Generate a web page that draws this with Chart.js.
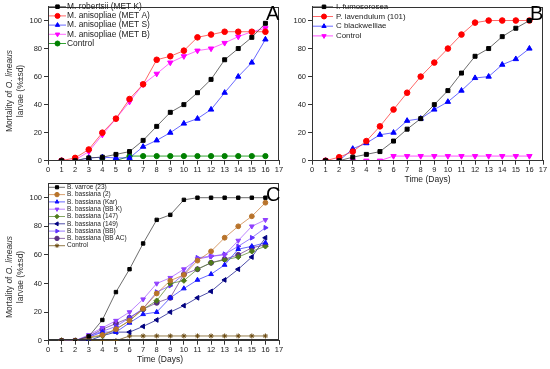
<!DOCTYPE html>
<html><head><meta charset="utf-8">
<script src="https://cdn.jsdelivr.net/npm/chart.js@4.4.1/dist/chart.umd.min.js"></script>
<style>
body{margin:0;background:#fff;width:550px;height:369px;position:relative;overflow:hidden}
canvas{position:absolute}
</style></head><body>
<canvas id="ca" width="285" height="178" style="left:0;top:0"></canvas>
<canvas id="cb" width="265" height="186" style="left:285px;top:0"></canvas>
<canvas id="cc" width="285" height="194" style="left:0;top:175px"></canvas>
<script>
// ---------- data ----------
const days = [1,2,3,4,5,6,7,8,9,10,11,12,13,14,15,16];
const yTickValues = [0,20,40,60,80,100];

// Panel A
const labelsA = ["M. robertsii (MET K)","M. anisopliae (MET A)","M. anisopliae (MET S)","M. anisopliae (MET B)","Control"];
const metK  = [0,0,2,2.5,4.5,6.5,14.5,24.5,34.5,40,48.5,58,72,80,88,98];
const metA  = [0,2,8,20,30,44,54.5,72,74.5,78.5,88,90,92,92,92,92];
const metS  = [0,0,2,2.5,2,2,10,14.5,20,26.5,30,36.5,48.5,60,70,86.5];
const metB  = [0,0.5,6.5,18.5,30,42,54.5,62,70,74.5,78.5,80,84,88.5,92,94.5];
const ctrlA = [0,0,0,0,0,3.3,3.3,3.3,3.3,3.3,3.3,3.3,3.3,3.3,3.3,3.3];

// Panel B
const labelsB = ["I. fumosorosea","P. lavendulum (101)","C blackwelliae","Control"];
const ifum  = [0,0,2.5,4.5,6.5,14,22.5,30,40,50,62.5,74.5,80,88.5,94.5,100];
const plav  = [0,2.5,6.5,14,24.5,36.5,48.5,60,70,80,90,98.5,100,100,100,100];
const cbla  = [0,0,8.5,12.5,18.5,20,28.5,30,36.5,42,50,59,60,68.5,72.5,80];
const ctrlB = [0,0,0,0,0,3.3,3.3,3.3,3.3,3.3,3.3,3.3,3.3,3.3,3.3,3.3];

// Panel C
const labelsC = ["B. varroe (23)","B. bassiana (2)","B. bassiana (Kar)","B. bassiana (BB K)","B. bassiana (147)","B. bassiana (149)","B. bassiana (BB)","B. bassiana (BB AC)","Control"];
const varroe = [0,0,3,14.5,34,50,68,84.5,88,98.5,100,100,100,100,100,100];
const bass2  = [0,0,2.5,4,8,14,22.5,33,42,46,56,62.5,72,80,87,96.5];
const bassKar= [0,0,2.5,6,6,12.5,18.5,20,30,36.5,42.5,46.5,53,64,66,68.5];
const bassBBK= [0,0,4,9,14,20,29,40,44,50,57,59,60,70,80,84.5];
const bass147= [0,0,2,3.5,8,14,22,28,40,42,50,54.5,56.5,58.5,62.5,66];
const bass149= [0,0,0,3.5,6,6,10,14.5,20,24.5,30,34.5,42.5,50,58.5,72];
const bassBB = [0,0,3.5,6.5,10,16,22.5,34,38.5,46.5,58,59,60.5,66,72,79];
const bassBBAC=[0,0,3,8,12,16,22,26.5,30,46.5,50,54.5,57,60,65,67];
const ctrlC  = [0,0,0,0,0,3.3,3.3,3.3,3.3,3.3,3.3,3.3,3.3,3.3,3.3,3.3];

// ---------- helpers ----------
const FONT = "'Liberation Sans', Arial, sans-serif";
function ds(label, vals, color, lineColor, style, rot, r){
  return {label, data: days.map((d,i)=>({x:d,y:vals[i]})),
    borderColor: lineColor, borderWidth: 1, backgroundColor: color,
    pointBackgroundColor: color, pointBorderColor: color, pointBorderWidth: 1,
    pointStyle: style, pointRotation: rot||0, pointRadius: r, tension: 0, fill:false};
}

const deco = {
  id:'deco',
  afterDraw(chart, args, o){
    const ctx = chart.ctx, a = chart.chartArea;
    ctx.save();
    ctx.strokeStyle = '#333'; ctx.lineWidth = 1;
    ctx.strokeRect(Math.round(a.left)+0.5, Math.round(a.top)+0.5, Math.round(a.right-a.left)-1, Math.round(a.bottom-a.top)-1);
    const L = o.legend;
    chart.data.datasets.forEach((d,i)=>{
      const y = L.y0 + L.dy*i;
      ctx.strokeStyle = d.borderColor; ctx.lineWidth = 1;
      ctx.beginPath(); ctx.moveTo(L.x0, y); ctx.lineTo(L.x1, y); ctx.stroke();
      ctx.fillStyle = d.pointBackgroundColor; ctx.strokeStyle = d.pointBorderColor;
      Chart.helpers.drawPoint(ctx, {pointStyle: d.pointStyle, rotation: d.pointRotation||0, radius: L.r, borderWidth: 1}, L.xm, y);
      ctx.fillStyle = '#222'; ctx.font = L.font; ctx.textBaseline = 'middle'; ctx.textAlign = 'left';
      ctx.fillText(d.label, L.xt, y);
    });
    // panel letter
    ctx.fillStyle = '#000'; ctx.font = "20px " + FONT; ctx.textBaseline = 'alphabetic'; ctx.textAlign = 'left';
    ctx.fillText(o.letter.t, o.letter.x, o.letter.y);
    // x title
    if (o.xtitle){
      ctx.fillStyle = '#222'; ctx.font = "8.5px " + FONT; ctx.textAlign = 'center'; ctx.textBaseline = 'middle';
      ctx.fillText("Time (Days)", o.xtitle.x, o.xtitle.y);
    }
    // y title
    if (o.ytitle){
      const Y = o.ytitle;
      const fN = "8.5px " + FONT, fI = "italic 8.5px " + FONT;
      ctx.fillStyle = '#333'; ctx.textBaseline = 'middle'; ctx.textAlign = 'left';
      ctx.save(); ctx.translate(Y.x1, Y.cy); ctx.rotate(-Math.PI/2);
      ctx.font = fN; const w1 = ctx.measureText("Mortality of ").width;
      ctx.font = fI; const w2 = ctx.measureText("O. lineaus").width;
      const s = -(w1+w2)/2;
      ctx.font = fN; ctx.fillText("Mortality of ", s, 0);
      ctx.font = fI; ctx.fillText("O. lineaus", s+w1, 0);
      ctx.restore();
      ctx.save(); ctx.translate(Y.x2, Y.cy); ctx.rotate(-Math.PI/2);
      ctx.font = fN; ctx.textAlign = 'center'; ctx.fillText("larvae (%\u00B1sd)", 0, 0);
      ctx.restore();
    }
    ctx.restore();
  }
};

function makeChart(id, datasets, area, decoOpts){
  const cv = document.getElementById(id);
  const W = cv.width, H = cv.height;
  return new Chart(cv, {
    type:'line',
    data:{datasets},
    options:{
      responsive:false, animation:false, devicePixelRatio:1,
      layout:{padding:{left:0, top:area.top, right:W-area.right, bottom:0}},
      plugins:{legend:{display:false}, tooltip:{enabled:false}, deco:decoOpts},
      scales:{
        x:{type:'linear', min:0, max:17,
          ticks:{stepSize:1, color:'#222', font:{family:FONT, size:7.5}, padding:1, maxRotation:0, autoSkip:false},
          grid:{drawOnChartArea:false, drawTicks:true, tickLength:4, color:'#333'},
          border:{display:true, color:'#333'},
          afterFit(s){ s.height = H - area.bottom; }
        },
        y:{type:'linear', min:0, max:110,
          afterBuildTicks(s){ s.ticks = yTickValues.map(v=>({value:v})); },
          ticks:{color:'#222', font:{family:FONT, size:7.5}, padding:2},
          grid:{drawOnChartArea:false, drawTicks:true, tickLength:4, color:'#333'},
          border:{display:true, color:'#333'},
          afterFit(s){ s.width = area.left; }
        }
      }
    },
    plugins:[{id:'bg', beforeDraw(c){c.ctx.save();c.ctx.fillStyle='#fff';c.ctx.fillRect(0,0,W,H);c.ctx.restore();}}, deco]
  });
}

// Panel A
makeChart('ca', [
  ds(labelsA[0], metK, '#000000', 'rgba(60,60,60,0.75)', 'rect', 0, 2.8),
  ds(labelsA[1], metA, '#ff0000', 'rgba(255,40,40,0.7)', 'circle', 0, 2.8),
  ds(labelsA[2], metS, '#0000ff', 'rgba(40,40,255,0.7)', 'triangle', 0, 3.1),
  ds(labelsA[3], metB, '#ff00ff', 'rgba(255,40,255,0.7)', 'triangle', 180, 3.1),
  ds(labelsA[4], ctrlA, '#008000', 'rgba(0,140,0,0.8)', 'circle', 0, 2.6)
], {left:48, right:279, top:3.5, bottom:160.7},
{legend:{x0:49, x1:66, xm:57.5, xt:67, y0:6.7, dy:9.2, r:2.5, font:"8.4px "+FONT},
 letter:{t:'A', x:266, y:20}, ytitle:{x1:10, x2:21, cy:91}});

// Panel B
makeChart('cb', [
  ds(labelsB[0], ifum, '#000000', 'rgba(60,60,60,0.75)', 'rect', 0, 2.8),
  ds(labelsB[1], plav, '#ff0000', 'rgba(255,40,40,0.7)', 'circle', 0, 2.8),
  ds(labelsB[2], cbla, '#0000ff', 'rgba(40,40,255,0.7)', 'triangle', 0, 3.1),
  ds(labelsB[3], ctrlB, '#ff00ff', 'rgba(255,40,255,0.8)', 'triangle', 180, 3.1)
], {left:27, right:258, top:3.5, bottom:160.7},
{legend:{x0:28, x1:48, xm:39, xt:51, y0:6.8, dy:9.7, r:2.5, font:"7.9px "+FONT},
 letter:{t:'B', x:245, y:20}, xtitle:{x:142.5, y:180}});

// Panel C
makeChart('cc', [
  ds(labelsC[0], varroe, '#000000', 'rgba(60,60,60,0.75)', 'rect', 0, 2.4),
  ds(labelsC[1], bass2, '#b8732a', 'rgba(200,120,50,0.7)', 'circle', 0, 2.4),
  ds(labelsC[2], bassKar, '#1010ff', 'rgba(40,40,255,0.7)', 'triangle', 0, 2.7),
  ds(labelsC[3], bassBBK, '#9040ff', 'rgba(160,80,255,0.7)', 'triangle', 180, 2.7),
  ds(labelsC[4], bass147, '#4f7a1a', 'rgba(80,130,30,0.7)', 'rectRot', 0, 2.7),
  ds(labelsC[5], bass149, '#000080', 'rgba(20,20,140,0.75)', 'triangle', 270, 2.7),
  ds(labelsC[6], bassBB, '#6030ff', 'rgba(110,70,255,0.7)', 'triangle', 90, 2.7),
  ds(labelsC[7], bassBBAC, '#5a2d82', 'rgba(100,50,140,0.7)', 'circle', 0, 2.5),
  ds(labelsC[8], ctrlC, '#6b4a10', 'rgba(120,90,30,0.8)', 'star', 0, 2.5)
], {left:48, right:279, top:8.4, bottom:165.7},
{legend:{x0:49, x1:65, xm:57, xt:67, y0:12.3, dy:7.3, r:2.2, font:"6.5px "+FONT},
 letter:{t:'C', x:266, y:26}, xtitle:{x:160, y:185},
 ytitle:{x1:10, x2:21, cy:102}});
</script>
</body></html>
